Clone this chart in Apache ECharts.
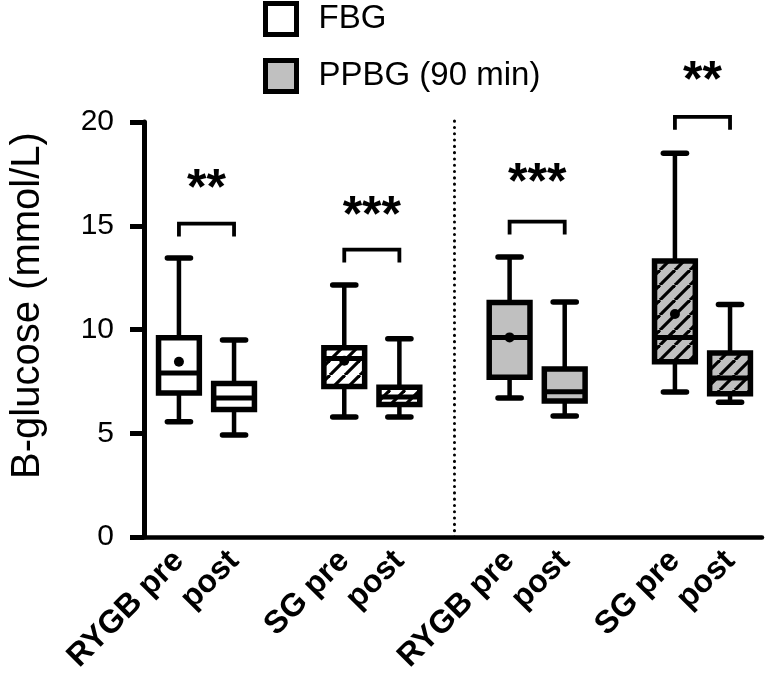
<!DOCTYPE html>
<html><head><meta charset="utf-8">
<script src="https://cdn.jsdelivr.net/npm/echarts@6/dist/echarts.min.js"></script>
<style>html,body{margin:0;padding:0;background:#fff}#c{width:767px;height:681px}</style>
</head><body><div id="c"></div>
<script>
// ---- data ----
const categories = ['RYGB pre', 'post', 'SG pre', 'post', 'RYGB pre', 'post', 'SG pre', 'post'];
const measure    = ['FBG', 'FBG', 'FBG', 'FBG', 'PPBG (90 min)', 'PPBG (90 min)', 'PPBG (90 min)', 'PPBG (90 min)'];
const procedure  = ['RYGB', 'RYGB', 'SG', 'SG', 'RYGB', 'RYGB', 'SG', 'SG'];
const whiskerLow = [5.55, 4.92, 5.78, 5.78, 6.70, 5.83, 6.99, 6.50];
const q1         = [6.94, 6.15, 7.25, 6.38, 7.70, 6.55, 8.45, 6.90];
const median     = [7.90, 6.70, 8.60, 6.75, 9.62, 7.00, 9.62, 7.66];
const q3         = [9.60, 7.40, 9.12, 7.22, 11.30, 8.10, 13.30, 8.87];
const whiskerHigh= [13.45, 9.50, 12.15, 9.55, 13.50, 11.32, 18.50, 11.20];
const mean       = [8.45, null, 8.50, null, 9.62, null, 10.75, null];
const sigLabels  = ['**', '***', '***', '**'];
const sigBracket = [15.10, 13.85, 15.20, 20.25];
const sigStar    = [17.2, 15.9, 17.5, 22.4];
const yTicks     = [0, 5, 10, 15, 20];
const seriesNames = ['FBG', 'PPBG (90 min)'];

// ---- layout helpers ----
const FONT = "'Liberation Sans', Arial, Helvetica, sans-serif";
const pos = i => Math.floor(i / 2) * 3 + (i % 2);   // pairs separated by one empty slot
const GRAY = '#c0c0c0';

function hatch(bg) {
  const s = 15, c = document.createElement('canvas');
  c.width = s; c.height = s;
  const ctx = c.getContext('2d');
  ctx.fillStyle = bg; ctx.fillRect(0, 0, s, s);
  ctx.strokeStyle = '#000'; ctx.lineWidth = 3.2;
  for (let k = -1; k <= 1; k++) {
    ctx.beginPath(); ctx.moveTo(k * s, s); ctx.lineTo(k * s + s, 0); ctx.stroke();
  }
  return { image: c, repeat: 'repeat' };
}
const fills = {
  'FBG|RYGB': '#ffffff',
  'FBG|SG': hatch('#ffffff'),
  'PPBG (90 min)|RYGB': GRAY,
  'PPBG (90 min)|SG': hatch(GRAY)
};

function boxData(name) {
  const out = [];
  categories.forEach((c, i) => {
    if (measure[i] !== name) return;
    out.push([pos(i), whiskerLow[i], q1[i], median[i], q3[i], whiskerHigh[i], mean[i] == null ? NaN : mean[i], i]);
  });
  return out;
}

function renderBox(params, api) {
  const x = api.value(0);
  const i = api.value(7);
  const pLow = api.coord([x, api.value(1)]);
  const pQ1 = api.coord([x, api.value(2)]);
  const pMed = api.coord([x, api.value(3)]);
  const pQ3 = api.coord([x, api.value(4)]);
  const pHigh = api.coord([x, api.value(5)]);
  const hw = api.size([0.74, 0])[0] / 2;
  const cw = api.size([0.42, 0])[0] / 2;
  const cx = pLow[0];
  const fill = fills[measure[i] + '|' + procedure[i]];
  const children = [
    { type: 'line', shape: { x1: cx, y1: pLow[1], x2: cx, y2: pHigh[1] }, style: { stroke: '#000', lineWidth: 4.5 } },
    { type: 'line', shape: { x1: cx - cw, y1: pLow[1], x2: cx + cw, y2: pLow[1] }, style: { stroke: '#000', lineWidth: 5.5, lineCap: 'round' } },
    { type: 'line', shape: { x1: cx - cw, y1: pHigh[1], x2: cx + cw, y2: pHigh[1] }, style: { stroke: '#000', lineWidth: 5.5, lineCap: 'round' } },
    { type: 'rect', shape: { x: cx - hw, y: pQ3[1], width: hw * 2, height: pQ1[1] - pQ3[1] }, style: { fill: fill, stroke: '#000', lineWidth: 5.5 } },
    { type: 'line', shape: { x1: cx - hw, y1: pMed[1], x2: cx + hw, y2: pMed[1] }, style: { stroke: '#000', lineWidth: 5 } }
  ];
  const m = api.value(6);
  if (!isNaN(m)) {
    const pm = api.coord([x, m]);
    children.push({ type: 'circle', shape: { cx: pm[0], cy: pm[1], r: 5 }, style: { fill: '#000' } });
  }
  return { type: 'group', children };
}

function annData() {
  return sigLabels.map((s, k) => [pos(2 * k), pos(2 * k + 1), sigBracket[k], sigStar[k], k]);
}
function renderAnn(params, api) {
  const xa = api.value(0), xb = api.value(1), yb = api.value(2), ys = api.value(3), k = api.value(4);
  const a = api.coord([xa, yb]), b = api.coord([xb, yb]);
  const drop = api.size([0, 0.62])[1];
  const s = api.coord([(xa + xb) / 2, ys]);
  return {
    type: 'group', children: [
      { type: 'polyline', shape: { points: [[a[0], a[1] + drop], [a[0], a[1]], [b[0], b[1]], [b[0], b[1] + drop]] }, style: { stroke: '#000', lineWidth: 3.8, fill: null } },
      { type: 'text', x: s[0], y: s[1] + 10, style: { text: sigLabels[k], fill: '#000', font: 'bold 50px ' + FONT, align: 'center', verticalAlign: 'middle' } }
    ]
  };
}
function renderSep(params, api) {
  const a = api.coord([api.value(0), 0]), b = api.coord([api.value(0), 20.3]);
  return { type: 'line', shape: { x1: a[0], y1: a[1], x2: b[0], y2: b[1] }, style: { stroke: '#000', lineWidth: 3, lineDash: [0.1, 6.2], lineCap: 'round' } };
}

const chart = echarts.init(document.getElementById('c'));
chart.setOption({
  animation: false,
  backgroundColor: '#fff',
  grid: { left: 143, top: 122, width: 619, height: 415, containLabel: false },
  legend: {
    orient: 'vertical', left: 258, top: -4, itemWidth: 31, itemHeight: 31, itemGap: 21, icon: 'rect',
    selectedMode: false,
    textStyle: { fontSize: 33, color: '#000', fontFamily: FONT, padding: [0, 0, 0, 17], lineHeight: 33 },
    data: [
      { name: seriesNames[0], itemStyle: { color: '#fff', borderColor: '#000', borderWidth: 5 } },
      { name: seriesNames[1], itemStyle: { color: GRAY, borderColor: '#000', borderWidth: 5 } }
    ]
  },
  xAxis: {
    type: 'value', min: -0.634, max: 10.58,
    axisLine: { show: true, onZero: false, lineStyle: { color: '#000', width: 4.5 } },
    axisTick: { show: false },
    splitLine: { show: false },
    axisLabel: {
      customValues: categories.map((c, i) => pos(i)),
      formatter: v => { const i = categories.findIndex((c, j) => pos(j) === v); return i >= 0 ? categories[i] : ''; },
      rotate: 45, margin: 19, color: '#000', fontSize: 32, fontWeight: 'bold', fontFamily: FONT
    }
  },
  yAxis: {
    type: 'value', min: 0, max: 20, interval: 5,
    name: 'B-glucose (mmol/L)', nameLocation: 'middle', nameGap: 96,
    nameTextStyle: { fontSize: 40, color: '#000', fontFamily: FONT, padding: [0, 0, 0, 48] },
    axisLine: { show: true, onZero: false, lineStyle: { color: '#000', width: 5 } },
    axisTick: { show: true, length: 14, lineStyle: { color: '#000', width: 5 } },
    splitLine: { show: false },
    axisLabel: { margin: 30, color: '#000', fontSize: 30, fontFamily: FONT, formatter: v => yTicks.includes(v) ? String(v) : '' }
  },
  series: [
    { type: 'custom', name: seriesNames[0], renderItem: renderBox, data: boxData(seriesNames[0]), encode: { x: 0, y: [1, 5] }, clip: false, itemStyle: { color: '#fff', borderColor: '#000' }, z: 3 },
    { type: 'custom', name: seriesNames[1], renderItem: renderBox, data: boxData(seriesNames[1]), encode: { x: 0, y: [1, 5] }, clip: false, itemStyle: { color: GRAY, borderColor: '#000' }, z: 3 },
    { type: 'custom', name: 'sig', renderItem: renderAnn, data: annData(), encode: { x: [0, 1], y: [2, 3] }, clip: false, z: 4, silent: true },
    { type: 'custom', name: 'sep', renderItem: renderSep, data: [[(pos(3) + pos(4)) / 2]], encode: { x: 0 }, clip: false, z: 2, silent: true }
  ]
});
</script>
</body></html>
